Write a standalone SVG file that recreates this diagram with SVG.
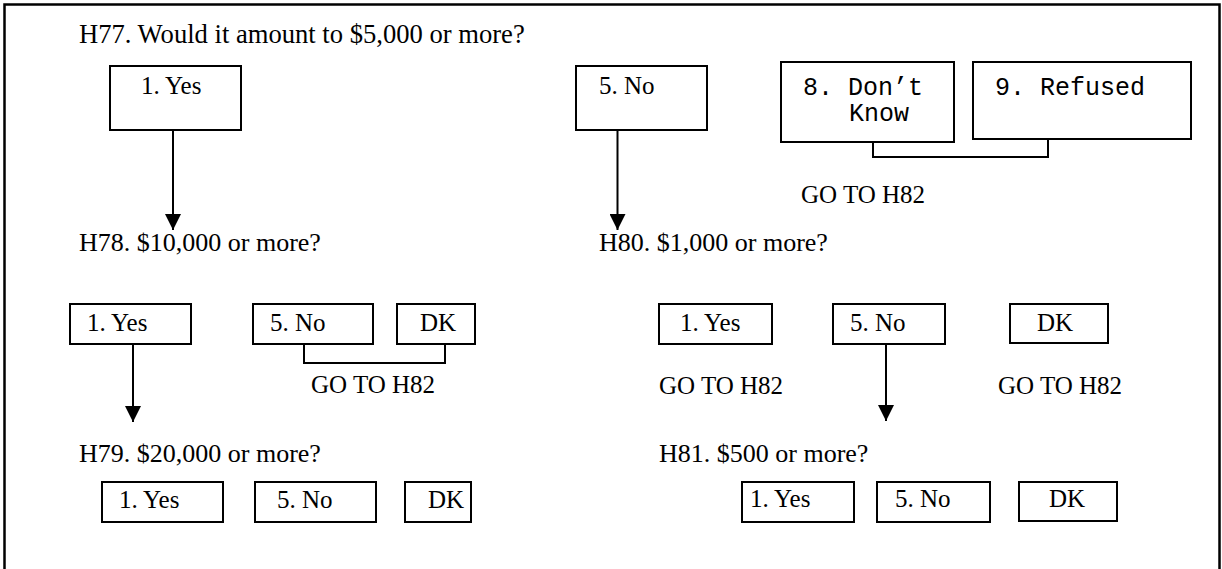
<svg xmlns="http://www.w3.org/2000/svg" width="1222" height="569" viewBox="0 0 1222 569">
<style>
.box{fill:#fff;stroke:#000;stroke-width:2}
.q{font-family:"Liberation Serif","Times New Roman",serif;font-size:26px;fill:#000}
.t{font-family:"Liberation Serif","Times New Roman",serif;font-size:25px;fill:#000}
.m{font-family:"Liberation Mono","Courier New",monospace;font-size:25px;fill:#000}
.ln{fill:none;stroke:#000;stroke-width:2}
</style>
<defs>
<marker id="ah" markerUnits="userSpaceOnUse" markerWidth="16" markerHeight="16" refX="16" refY="8" orient="auto">
<path d="M0,0 L16,8 L0,16 z" fill="#000"/>
</marker>
</defs>
<rect x="4.5" y="4.5" width="1215" height="600" fill="#fff" stroke="#000" stroke-width="2.5"/>
<g id="q-h77"><text class="q" x="79" y="43" style="font-size:26.6px">H77. Would it amount to $5,000 or more?</text></g>
<g id="q-h78"><text class="q" x="79" y="251">H78. $10,000 or more?</text></g>
<g id="q-h80"><text class="q" x="599" y="251">H80. $1,000 or more?</text></g>
<g id="q-h79"><text class="q" x="79" y="462">H79. $20,000 or more?</text></g>
<g id="q-h81"><text class="q" x="659" y="462">H81. $500 or more?</text></g>

<g id="h77-yes"><rect class="box" x="110" y="66" width="131" height="64"/><text class="t" x="141" y="94">1. Yes</text></g>
<g id="h77-no"><rect class="box" x="576" y="66" width="131" height="64"/><text class="t" x="599" y="94">5. No</text></g>
<g id="h77-dk"><rect class="box" x="781" y="62" width="173" height="80"/><text class="m" x="803" y="95">8. Don’t</text><text class="m" x="849" y="121">Know</text></g>
<g id="h77-ref"><rect class="box" x="973" y="62" width="218" height="77"/><text class="m" x="995" y="95">9. Refused</text></g>
<g id="goto-1"><text class="t" x="801" y="203">GO TO H82</text></g>

<g id="h78-yes"><rect class="box" x="70" y="304" width="121" height="40"/><text class="t" x="87" y="331">1. Yes</text></g>
<g id="h78-no"><rect class="box" x="253" y="304" width="120" height="40"/><text class="t" x="270" y="331">5. No</text></g>
<g id="h78-dk"><rect class="box" x="397" y="304" width="78" height="40"/><text class="t" x="420" y="331">DK</text></g>
<g id="goto-2"><text class="t" x="311" y="393">GO TO H82</text></g>

<g id="h80-yes"><rect class="box" x="659" y="304" width="113" height="40"/><text class="t" x="680" y="331">1. Yes</text></g>
<g id="h80-no"><rect class="box" x="833" y="304" width="112" height="40"/><text class="t" x="850" y="331">5. No</text></g>
<g id="h80-dk"><rect class="box" x="1010" y="304" width="98" height="39"/><text class="t" x="1037" y="331">DK</text></g>
<g id="goto-3"><text class="t" x="659" y="394">GO TO H82</text></g>
<g id="goto-4"><text class="t" x="998" y="394">GO TO H82</text></g>

<g id="h79-yes"><rect class="box" x="102" y="482" width="121" height="40"/><text class="t" x="119" y="508">1. Yes</text></g>
<g id="h79-no"><rect class="box" x="255" y="482" width="121" height="40"/><text class="t" x="277" y="508">5. No</text></g>
<g id="h79-dk"><rect class="box" x="405" y="482" width="66" height="40"/><text class="t" x="428" y="508">DK</text></g>

<g id="h81-yes"><rect class="box" x="742" y="482" width="112" height="40"/><text class="t" x="750" y="507">1. Yes</text></g>
<g id="h81-no"><rect class="box" x="877" y="482" width="113" height="40"/><text class="t" x="895" y="507">5. No</text></g>
<g id="h81-dk"><rect class="box" x="1019" y="482" width="98" height="39"/><text class="t" x="1049" y="507">DK</text></g>

<g id="connectors">
<line class="ln" x1="173" y1="130" x2="173" y2="230" marker-end="url(#ah)"/>
<line class="ln" x1="617.5" y1="130" x2="617.5" y2="230" marker-end="url(#ah)"/>
<line class="ln" x1="133" y1="344" x2="133" y2="422" marker-end="url(#ah)"/>
<line class="ln" x1="886" y1="344" x2="886" y2="421" marker-end="url(#ah)"/>
<path class="ln" d="M873,142 V157 H1048 V139"/>
<path class="ln" d="M304,344 V363 H445 V344"/>
</g>
</svg>
